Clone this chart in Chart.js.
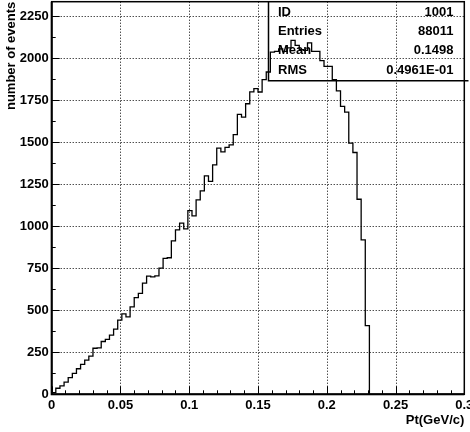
<!DOCTYPE html>
<html lang="en">
<head>
  <meta charset="UTF-8"/>
  <title>Pt(GeV/c) histogram</title>
  <script src="https://cdn.jsdelivr.net/npm/chart.js"></script>
  <style>
    html, body { margin: 0; padding: 0; background: #fff; }
    #ptChart { display: block; }
  </style>
</head>
<body>
  <canvas id="ptChart" width="470" height="432"></canvas>
  <script>
    // histogram 1001: 100 bins between 0 and 0.3 GeV/c
    const xMin = 0;
    const xMax = 0.3;
    const binWidth = 0.003;
    const binCounts = [
      10, 36, 50, 72, 99, 124, 152, 178, 203, 227,
      274, 276, 314, 327, 352, 388, 441, 478, 461, 520,
      575, 600, 661, 703, 698, 704, 750, 808, 812, 912,
      978, 1018, 984, 1093, 1061, 1156, 1210, 1299, 1266, 1365,
      1464, 1442, 1469, 1484, 1545, 1665, 1649, 1728, 1799, 1818,
      1798, 1871, 1917, 2035, 2040, 2055, 2040, 2060, 2105, 2075,
      2050, 2045, 2090, 2040, 2040, 1985, 1950, 1950, 1871, 1805,
      1712, 1678, 1494, 1438, 1160, 919, 409, 0, 0, 0,
      0, 0, 0, 0, 0, 0, 0, 0, 0, 0,
      0, 0, 0, 0, 0, 0, 0, 0, 0, 0
    ];
    const yMax = 2335;
    const xTicks = [0, 0.05, 0.1, 0.15, 0.2, 0.25, 0.3];
    const yTicks = [0, 250, 500, 750, 1000, 1250, 1500, 1750, 2000, 2250];
    const statsLabels = ['ID', 'Entries', 'Mean', 'RMS'];
    const statsValues = ['1001', '88011', '0.1498', '0.4961E-01'];

    const FONT = 'bold 13px "Liberation Sans", Arial, sans-serif';

    // step outline: each point is the left edge of a bin
    const points = [{ x: xMin, y: 0 }];
    binCounts.forEach((c, i) => points.push({ x: xMin + i * binWidth, y: c }));
    points.push({ x: xMax, y: 0 });

    const rootStyle = {
      id: 'rootStyle',
      beforeDatasetsDraw(chart) {
        const { ctx, chartArea: a, scales: { x, y } } = chart;
        ctx.save();
        ctx.strokeStyle = '#000';
        ctx.lineWidth = 1;
        ctx.setLineDash([1, 2]);
        xTicks.forEach(v => {
          if (v === xMin || v === xMax) return;
          const px = Math.round(x.getPixelForValue(v)) + 0.5;
          ctx.beginPath(); ctx.moveTo(px, a.top); ctx.lineTo(px, a.bottom); ctx.stroke();
        });
        yTicks.forEach(v => {
          if (v === 0) return;
          const py = Math.round(y.getPixelForValue(v)) + 0.5;
          ctx.beginPath(); ctx.moveTo(a.left, py); ctx.lineTo(a.right, py); ctx.stroke();
        });
        ctx.restore();
      },
      afterDatasetsDraw(chart) {
        const { ctx, chartArea: a, scales: { x, y } } = chart;
        ctx.save();
        ctx.strokeStyle = '#000';
        ctx.fillStyle = '#000';

        // tick marks, inside the frame
        ctx.lineWidth = 1;
        for (let i = 0; i <= 30; i++) {
          const v = i * 0.01;
          const px = Math.round(x.getPixelForValue(v)) + 0.5;
          const len = i % 5 === 0 ? 8 : 4;
          ctx.beginPath(); ctx.moveTo(px, a.bottom); ctx.lineTo(px, a.bottom - len); ctx.stroke();
        }
        for (let v = 0; v <= yMax; v += 125) {
          const py = Math.round(y.getPixelForValue(v)) + 0.5;
          const len = v % 250 === 0 ? 8 : 4;
          ctx.beginPath(); ctx.moveTo(a.left, py); ctx.lineTo(a.left + len, py); ctx.stroke();
        }

        // frame
        ctx.lineWidth = 1.5;
        ctx.strokeRect(a.left, a.top, a.right - a.left, a.bottom - a.top);
        ctx.lineWidth = 2;
        ctx.beginPath();
        ctx.moveTo(a.left, a.top); ctx.lineTo(a.left, a.bottom); ctx.lineTo(a.right, a.bottom);
        ctx.stroke();

        // stats box
        const bx = 268.5, by = a.top, bw = 200, bh = 79;
        ctx.lineWidth = 1.5;
        ctx.beginPath();
        ctx.moveTo(bx, by); ctx.lineTo(bx, by + bh); ctx.lineTo(bx + bw, by + bh);
        ctx.stroke();
        ctx.font = FONT;
        ctx.textBaseline = 'middle';
        statsLabels.forEach((lab, i) => {
          const ty = 12.5 + i * 19.2;
          ctx.textAlign = 'left';
          ctx.fillText(lab, 278, ty);
          ctx.textAlign = 'right';
          ctx.fillText(statsValues[i], 453.5, ty);
        });

        // axis titles
        ctx.textAlign = 'right';
        ctx.fillText('Pt(GeV/c)', a.right, 420.5);
        ctx.translate(11.5, a.top);
        ctx.rotate(-Math.PI / 2);
        ctx.textAlign = 'right';
        ctx.fillText('number of events', 0, 0);
        ctx.restore();
      }
    };

    Chart.defaults.font.family = '"Liberation Sans", Arial, sans-serif';
    Chart.defaults.color = '#000';

    new Chart(document.getElementById('ptChart').getContext('2d'), {
      type: 'line',
      data: {
        datasets: [{
          label: 'Pt',
          data: points,
          stepped: true,
          borderColor: '#000',
          borderWidth: 1.3,
          pointRadius: 0,
          fill: false,
          tension: 0
        }]
      },
      options: {
        responsive: false,
        animation: false,
        devicePixelRatio: 1,
        layout: { padding: { left: 0, right: 5.7, top: 1.7, bottom: 0 } },
        plugins: { legend: { display: false }, tooltip: { enabled: false } },
        scales: {
          x: {
            type: 'linear',
            min: xMin,
            max: xMax,
            grid: { display: false, drawTicks: false },
            border: { display: false },
            afterBuildTicks: s => { s.ticks = xTicks.map(v => ({ value: v })); },
            afterFit: s => { s.height = 37.7; s.paddingLeft = 0; s.paddingRight = 0; },
            ticks: {
              padding: 3,
              maxRotation: 0,
              autoSkip: false,
              font: { size: 13, weight: 'bold' },
              callback: v => String(parseFloat(v.toFixed(2)))
            }
          },
          y: {
            min: 0,
            max: yMax,
            grid: { display: false, drawTicks: false },
            border: { display: false },
            afterBuildTicks: s => { s.ticks = yTicks.map(v => ({ value: v })); },
            afterFit: s => { s.width = 51.7; s.paddingTop = 0; s.paddingBottom = 0; },
            ticks: {
              padding: 3,
              autoSkip: false,
              font: { size: 13, weight: 'bold' },
              callback: v => String(v)
            }
          }
        }
      },
      plugins: [rootStyle]
    });
  </script>
</body>
</html>
